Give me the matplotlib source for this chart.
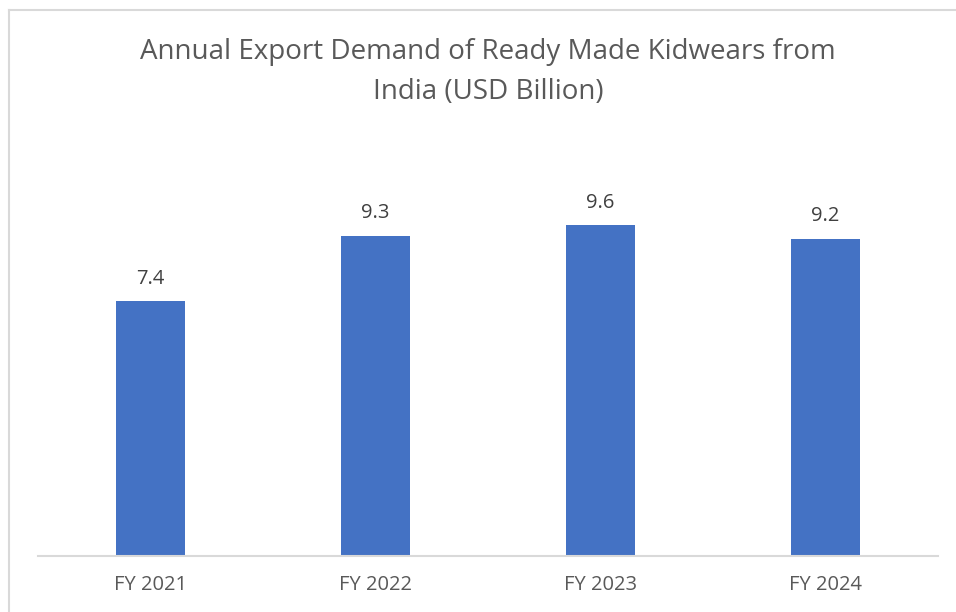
import matplotlib.pyplot as plt
from matplotlib.lines import Line2D

categories = ['FY 2021', 'FY 2022', 'FY 2023', 'FY 2024']
values = [7.4, 9.3, 9.6, 9.2]

plt.rcParams['font.family'] = ['Open Sans', 'DejaVu Sans']
txt = '#595959'

fig = plt.figure(figsize=(9.56, 6.12), dpi=100)
ax = fig.add_axes([38/956, 56/612, 900/956, 413.5/612])

x = range(len(categories))
bars = ax.bar(x, values, width=0.31, color='#4472C4')
for i, v in enumerate(values):
    ax.annotate('%.1f' % v, (i, v), xytext=(0, 9), textcoords='offset points',
                ha='center', va='bottom', fontsize=14.5, color='#404040')

ax.set_xlim(-0.5, 3.5)
ax.set_ylim(0, 12)
ax.set_xticks(list(x))
ax.set_xticklabels(categories, fontsize=14.5, color=txt)
ax.tick_params(axis='x', length=0, pad=14)
ax.set_yticks([])
for s in ['top', 'right', 'left']:
    ax.spines[s].set_visible(False)
ax.spines['bottom'].set_color('#D9D9D9')
ax.spines['bottom'].set_linewidth(1.5)

fig.text(488/956, 1 - 72/612, 'Annual Export Demand of Ready Made Kidwears from\nIndia (USD Billion)',
         ha='center', va='center', fontsize=20, color=txt, linespacing=1.55)

# chart frame (only left and top edges visible)
fig.add_artist(Line2D([8.5/956, 8.5/956], [0, 1 - 9.5/612], color='#D9D9D9', lw=1.5))
fig.add_artist(Line2D([8.5/956, 1], [1 - 9.5/612, 1 - 9.5/612], color='#D9D9D9', lw=1.5))

fig.savefig('out.png', dpi=100)
